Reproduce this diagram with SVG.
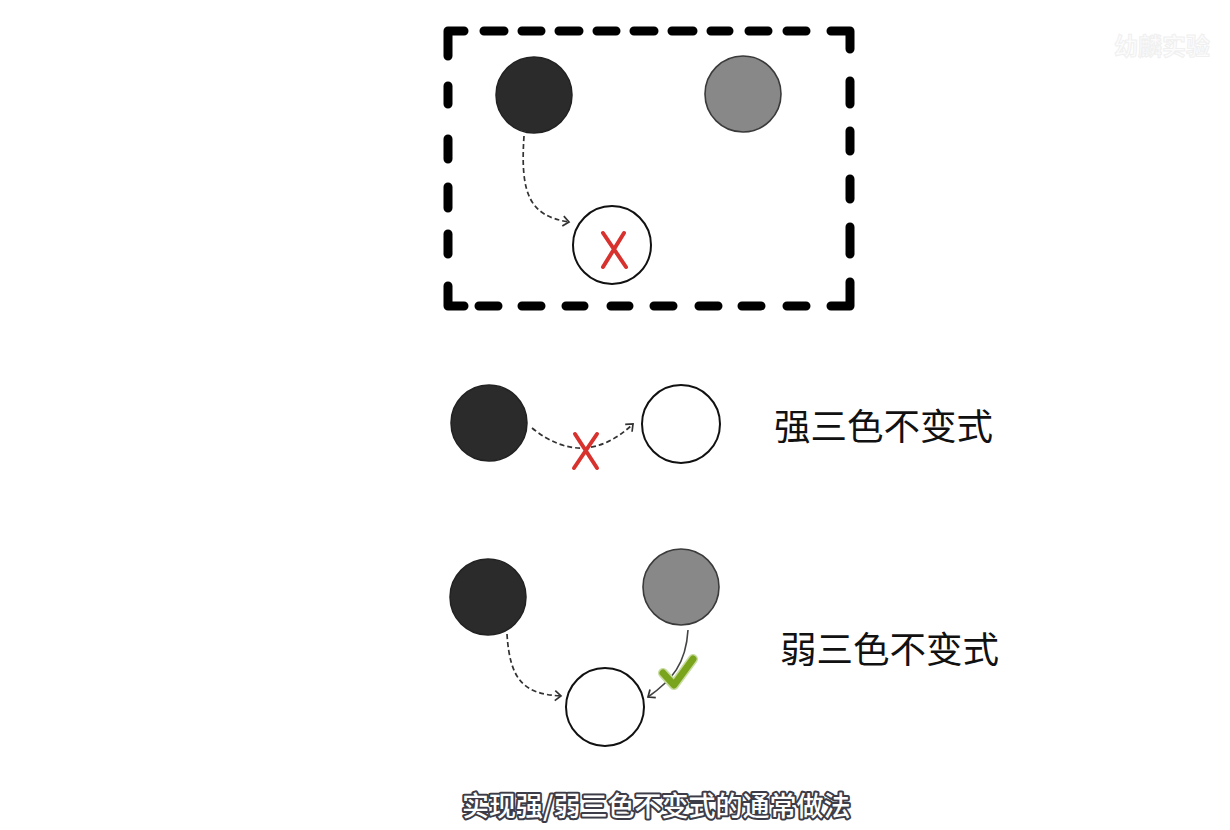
<svg xmlns="http://www.w3.org/2000/svg" width="1230" height="830" viewBox="0 0 1230 830">
<style>
.box{fill:none;stroke:#000;stroke-width:9;stroke-linecap:round;stroke-linejoin:round}
.dark{fill:#2b2b2b;stroke:#222;stroke-width:1.5}
.gray{fill:#888;stroke:#3a3a3a;stroke-width:1.6}
.white{fill:#fff;stroke:#111;stroke-width:2}
.dash{fill:none;stroke:#333;stroke-width:1.7;stroke-dasharray:5 3}
.solid{fill:none;stroke:#444;stroke-width:1.6}
.redx{stroke:#d8322e;stroke-width:4;stroke-linecap:round;fill:none}
.label{font-family:"Noto Sans CJK SC",sans-serif;font-size:36.5px;fill:#111}
.sub{font-family:"Noto Sans CJK SC",sans-serif;font-size:27px;font-weight:500;fill:#fff;stroke:#3c3c48;stroke-width:4;paint-order:stroke;stroke-linejoin:round}
.wm{font-family:"Noto Sans CJK SC",sans-serif;font-size:24px;font-weight:bold;fill:#fcfcfc;stroke:#f0f0f0;stroke-width:1}
</style>
<defs>
<marker id="chev" markerUnits="userSpaceOnUse" markerWidth="14" markerHeight="14" refX="9" refY="6" orient="auto" viewBox="0 0 14 12">
<path d="M3,1 L9,6 L3,11" fill="none" stroke="#333" stroke-width="1.7"/>
</marker>
</defs>
<rect width="1230" height="830" fill="#fff"/>

<g id="frame">
<path class="box" d="M448,56 L448,31 L464,31 M484,31 L504,31 M522,31 L541,31 M559,31 L579,31 M597,31 L616,31 M634,31 L654,31 M672,31 L693,31 M711,31 L729,31 M749,31 L768,31 M787,31 L806,31 M831,31 L850,31 L850,49 M850,81 L850,104 M850,131 L850,151 M850,179 L850,199 M850,227 L850,254 M850,282 L850,306 L831,306 M806,306 L787,306 M761,306 L742,306 M718,306 L699,306 M673,306 L654,306 M629,306 L611,306 M584,306 L566,306 M541,306 L522,306 M498,306 L479,306 M464,306 L448,306 L448,286 M448,254 L448,234 M448,208 L448,187 M448,159 L448,139 M448,104 L448,86"/>
</g>

<g id="top-black"><circle class="dark" cx="534" cy="95" r="38"/></g>
<g id="top-gray"><circle class="gray" cx="743" cy="94" r="38"/></g>
<g id="top-white">
<circle class="white" cx="612" cy="245" r="39"/>
<path class="redx" d="M603,233 L626,267 M624,233 L603,267"/>
</g>

<g id="mid-black"><circle class="dark" cx="489" cy="423" r="38"/></g>
<g id="mid-white"><circle class="white" cx="681" cy="424" r="39"/></g>
<g id="mid-label"><text class="label" x="774" y="440">强三色不变式</text></g>

<g id="bot-black"><circle class="dark" cx="488" cy="597" r="38"/></g>
<g id="bot-gray"><circle class="gray" cx="681" cy="587" r="38"/></g>
<g id="bot-white"><circle class="white" cx="605" cy="707" r="39"/></g>
<g id="bot-label"><text class="label" x="780" y="663">弱三色不变式</text></g>

<g id="connectors">
<path class="dash" d="M524,136 C520,195 530,216 569,222" marker-end="url(#chev)"/>
<path class="dash" d="M532,428 Q584,470 633,424" marker-end="url(#chev)"/>
<path class="redx" d="M575,434 L597,468 M597,434 L574,468"/>
<path class="dash" d="M507,634 C510,682 525,694 561,696" marker-end="url(#chev)"/>
<path class="solid" d="M688,630 C686,664 672,680 648,697" marker-end="url(#chev)"/>
<path d="M663,673 L674,685 L693,659" fill="none" stroke="#c8dca0" stroke-width="10" stroke-linecap="round" stroke-linejoin="round"/>
<path d="M663,673 L674,685 L693,659" fill="none" stroke="#7aa41c" stroke-width="7" stroke-linecap="round" stroke-linejoin="round"/>
</g>

<g id="subtitle"><text class="sub" x="462" y="816">实现强/弱三色不变式的通常做法</text></g>
<g id="watermark"><text class="wm" x="1114" y="55">幼麟实验</text></g>
</svg>
